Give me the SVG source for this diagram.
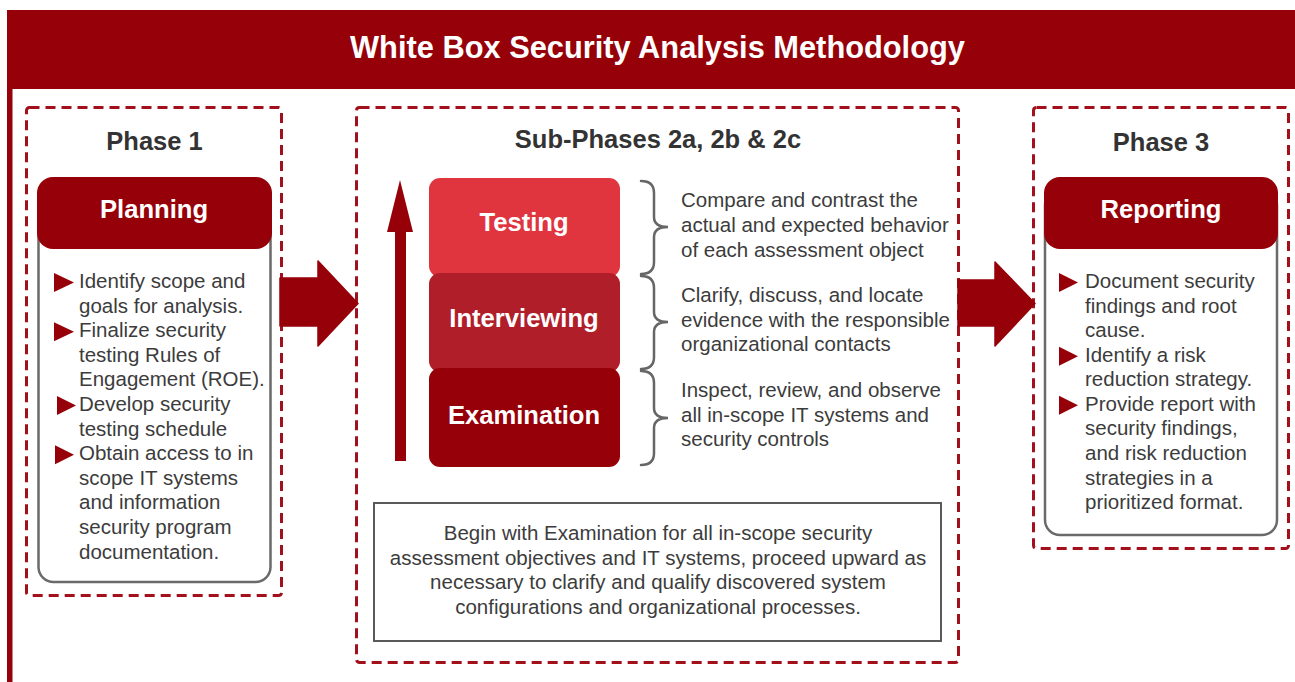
<svg xmlns="http://www.w3.org/2000/svg" width="1295" height="682" viewBox="0 0 1295 682">
  <style>
    .dash { fill: none; stroke: #a2111b; stroke-width: 3; stroke-dasharray: 10 6; }
    .card { fill: #ffffff; stroke: #6a6a6a; stroke-width: 2.5; }
    .cap { fill: #960008; }
    .h { font-family: "Liberation Sans", Arial, sans-serif; font-weight: bold; fill: #333333; font-size: 25.5px; text-anchor: middle; }
    .w { font-family: "Liberation Sans", Arial, sans-serif; font-weight: bold; fill: #ffffff; font-size: 25.6px; text-anchor: middle; }
    .t { font-family: "Liberation Sans", Arial, sans-serif; fill: #3c3c3c; font-size: 20.5px; }
    .c { text-anchor: middle; }
    .tri { fill: #960008; }
    .brace { fill: none; stroke: #666666; stroke-width: 2.5; stroke-linecap: round; }
    .big { fill: #960008; }
  </style>

  <!-- page frame and title band -->
  <rect x="0" y="0" width="1295" height="682" fill="#ffffff"/>
  <rect id="title-band" x="7" y="10" width="1288" height="79" fill="#960008"/>
  <rect x="7" y="89" width="5.5" height="593" fill="#960008"/>
  <text x="657.5" y="58" font-family="'Liberation Sans', Arial, sans-serif" font-weight="bold" font-size="30.8" fill="#ffffff" text-anchor="middle">White Box Security Analysis Methodology</text>

  <!-- Phase 1 -->
  <g id="phase1">
    <rect class="dash" x="26.5" y="107.5" width="255" height="488" rx="3"/>
    <text class="h" x="154.5" y="150">Phase 1</text>
    <rect class="card" x="38.5" y="190" width="232" height="392" rx="15"/>
    <rect class="cap" x="37" y="177" width="235" height="72" rx="16"/>
    <text class="w" x="154" y="218">Planning</text>
    <polygon class="tri" points="54,273 54,292 74,282.5"/>
    <polygon class="tri" points="54,322.2 54,341.2 74,331.7"/>
    <polygon class="tri" points="57,396 57,415 76,405.5"/>
    <polygon class="tri" points="55,445.2 55,464.2 74,454.7"/>
    <text class="t" x="79" y="288">Identify scope and</text>
    <text class="t" x="79" y="312.6">goals for analysis.</text>
    <text class="t" x="79" y="337.2">Finalize security</text>
    <text class="t" x="79" y="361.8">testing Rules of</text>
    <text class="t" x="79" y="386.4">Engagement (ROE).</text>
    <text class="t" x="79" y="411">Develop security</text>
    <text class="t" x="79" y="435.6">testing schedule</text>
    <text class="t" x="79" y="460.2">Obtain access to in</text>
    <text class="t" x="79" y="484.8">scope IT systems</text>
    <text class="t" x="79" y="509.4">and information</text>
    <text class="t" x="79" y="534">security program</text>
    <text class="t" x="79" y="558.6">documentation.</text>
  </g>

  <!-- Sub-phases 2a, 2b, 2c -->
  <g id="phase2">
    <rect class="dash" x="356.5" y="107.5" width="602" height="555" rx="3"/>
    <text class="h" x="658" y="148">Sub-Phases 2a, 2b &amp; 2c</text>
  </g>

  <g id="testing">
    <rect x="429" y="178" width="191" height="99" rx="11" fill="#e0343f"/>
    <text class="w" x="524" y="231">Testing</text>
  </g>
  <g id="interviewing">
    <rect x="429" y="273" width="191" height="99" rx="11" fill="#b01e2a"/>
    <text class="w" x="524" y="327">Interviewing</text>
  </g>
  <g id="examination">
    <rect x="429" y="368" width="191" height="99" rx="11" fill="#960008"/>
    <text class="w" x="524" y="424">Examination</text>
  </g>

  <g id="descriptions">
    <path class="brace" d="M641,181 Q654,181 654,193 L654,217 Q654,227 668,227 Q654,227 654,237 L654,262 Q654,274 641,274"/>
    <path class="brace" d="M641,276 Q654,276 654,288 L654,312 Q654,322 668,322 Q654,322 654,332 L654,357 Q654,369 641,369"/>
    <path class="brace" d="M641,371 Q654,371 654,383 L654,408 Q654,418 668,418 Q654,418 654,428 L654,453 Q654,465 641,465"/>
    <text class="t" x="681" y="207">Compare and contrast the</text>
    <text class="t" x="681" y="232">actual and expected behavior</text>
    <text class="t" x="681" y="257">of each assessment object</text>
    <text class="t" x="681" y="302">Clarify, discuss, and locate</text>
    <text class="t" x="681" y="327">evidence with the responsible</text>
    <text class="t" x="681" y="351">organizational contacts</text>
    <text class="t" x="681" y="397">Inspect, review, and observe</text>
    <text class="t" x="681" y="422">all in-scope IT systems and</text>
    <text class="t" x="681" y="446">security controls</text>
  </g>

  <g id="note">
    <rect x="374" y="503" width="567" height="138" fill="#ffffff" stroke="#5a5a5a" stroke-width="2"/>
    <text class="t c" x="658" y="540">Begin with Examination for all in-scope security</text>
    <text class="t c" x="658" y="564.5">assessment objectives and IT systems, proceed upward as</text>
    <text class="t c" x="658" y="589">necessary to clarify and qualify discovered system</text>
    <text class="t c" x="658" y="613.5">configurations and organizational processes.</text>
  </g>

  <!-- Phase 3 -->
  <g id="phase3">
    <rect class="dash" x="1033.5" y="107.5" width="255" height="441" rx="3"/>
    <text class="h" x="1161" y="151">Phase 3</text>
    <rect class="card" x="1045" y="190" width="232" height="345" rx="15"/>
    <rect class="cap" x="1044" y="177" width="234" height="72" rx="16"/>
    <text class="w" x="1161" y="218">Reporting</text>
    <polygon class="tri" points="1059,273 1059,292 1078,282.5"/>
    <polygon class="tri" points="1059,346.7 1059,365.7 1078,356.2"/>
    <polygon class="tri" points="1059,395.8 1059,414.8 1078,405.3"/>
    <text class="t" x="1085" y="288">Document security</text>
    <text class="t" x="1085" y="312.6">findings and root</text>
    <text class="t" x="1085" y="337.1">cause.</text>
    <text class="t" x="1085" y="361.7">Identify a risk</text>
    <text class="t" x="1085" y="386.2">reduction strategy.</text>
    <text class="t" x="1085" y="410.8">Provide report with</text>
    <text class="t" x="1085" y="435.4">security findings,</text>
    <text class="t" x="1085" y="459.9">and risk reduction</text>
    <text class="t" x="1085" y="484.5">strategies in a</text>
    <text class="t" x="1085" y="509">prioritized format.</text>
  </g>

  <!-- flow arrows -->
  <g id="connectors">
    <polygon class="big" points="280,278 318,278 318,261 358,303.5 318,346 318,326 280,326" stroke="#960008" stroke-width="1.5" stroke-linejoin="round"/>
    <polygon class="big" points="958,280 995,280 995,262 1035,303.5 995,346 995,326 958,326" stroke="#960008" stroke-width="1.5" stroke-linejoin="round"/>
    <polygon class="big" points="395,461 395,232 387,232 400,180 413,232 406,232 406,461"/>
  </g>
</svg>
